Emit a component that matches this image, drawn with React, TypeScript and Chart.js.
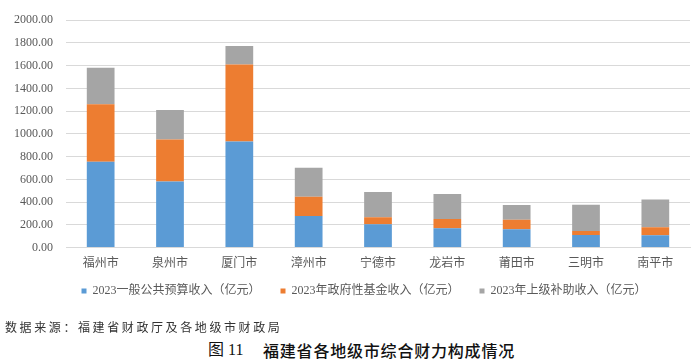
import React, { useEffect, useRef } from "react";
import { Chart, registerables } from "chart.js";

Chart.register(...registerables);

const cities = ["福州市", "泉州市", "厦门市", "漳州市", "宁德市", "龙岩市", "莆田市", "三明市", "南平市"];
const generalBudget = [755, 582, 933, 278, 205, 170, 161, 111, 108];
const govFund = [505, 368, 678, 169, 61, 81, 85, 35, 70];
const transfers = [322, 260, 161, 255, 222, 220, 128, 231, 246];
const seriesNames = [
  "2023一般公共预算收入（亿元）",
  "2023年政府性基金收入（亿元）",
  "2023年上级补助收入（亿元）",
];
const seriesColors = ["#5B9BD5", "#ED7D31", "#A5A5A5"];
const yTicks = { min: 0, max: 2000, step: 200 };

const FONT = "'Liberation Serif', 'Times New Roman', 'Noto Sans CJK SC', serif";

const legendPlacer = {
  id: "legendPlacer",
  afterLayout(chart: any) {
    const lg = chart.legend;
    if (!lg) return;
    const dy = 265 - lg.top;
    lg.top += dy;
    lg.bottom += dy;
    lg.left += 19;
    lg.right += 19;
  },
};

export default function App() {
  const ref = useRef<HTMLCanvasElement | null>(null);

  useEffect(() => {
    if (!ref.current) return;
    const chart = new Chart(ref.current, {
      type: "bar",
      data: {
        labels: cities,
        datasets: [generalBudget, govFund, transfers].map((d, i) => ({
          label: seriesNames[i],
          data: d,
          backgroundColor: seriesColors[i],
          borderWidth: 0,
          categoryPercentage: 1,
          barPercentage: 0.4,
        })),
      },
      plugins: [legendPlacer],
      options: {
        animation: false,
        responsive: false,
        maintainAspectRatio: false,
        layout: { padding: { left: 0, right: 10, top: 14, bottom: 4 } },
        plugins: {
          legend: {
            position: "bottom",
            labels: {
              boxWidth: 5,
              boxHeight: 5,
              padding: 20,
              color: "#595959",
              font: { family: FONT, size: 12 },
            },
          },
          tooltip: { enabled: false },
        },
        scales: {
          x: {
            stacked: true,
            grid: { display: false, drawTicks: false },
            border: { color: "#D9D9D9" },
            ticks: { color: "#595959", font: { family: FONT, size: 12 }, padding: 9 },
          },
          y: {
            stacked: true,
            min: yTicks.min,
            max: yTicks.max,
            afterFit: (s: any) => {
              s.width = 66;
            },
            ticks: {
              stepSize: yTicks.step,
              padding: 13,
              color: "#595959",
              font: { family: FONT, size: 12 },
              callback: (v: any) => Number(v).toFixed(2),
            },
            grid: { color: "#D9D9D9", drawTicks: false, lineWidth: 1 },
            border: { display: false },
          },
        },
      },
    });
    return () => chart.destroy();
  }, []);

  return (
    <div style={{ position: "absolute", left: 0, top: 0, width: 700, height: 364, background: "#fff", overflow: "hidden" }}>
      <canvas ref={ref} width={700} height={326} style={{ display: "block", width: 700, height: 326 }} />
      <div
        style={{
          position: "absolute",
          left: 5,
          top: 319,
          fontFamily: "'Noto Sans CJK SC', sans-serif",
          fontSize: 12,
          letterSpacing: 2.6,
          color: "#333",
          whiteSpace: "nowrap",
          lineHeight: "16px",
        }}
      >
        数据来源：福建省财政厅及各地级市财政局
      </div>
      <div
        style={{
          position: "absolute",
          left: 208,
          top: 340,
          fontFamily: "'Liberation Serif', 'Noto Sans CJK SC', serif",
          fontSize: 16,
          fontWeight: 400,
          color: "#111",
          whiteSpace: "nowrap",
          lineHeight: "20px",
        }}
      >
        图 11
      </div>
      <div
        style={{
          position: "absolute",
          left: 263,
          top: 340,
          fontFamily: "'Noto Sans CJK SC', sans-serif",
          fontSize: 16,
          letterSpacing: 0.8,
          fontWeight: 500,
          color: "#111",
          whiteSpace: "nowrap",
          lineHeight: "20px",
        }}
      >
        福建省各地级市综合财力构成情况
      </div>
    </div>
  );
}
